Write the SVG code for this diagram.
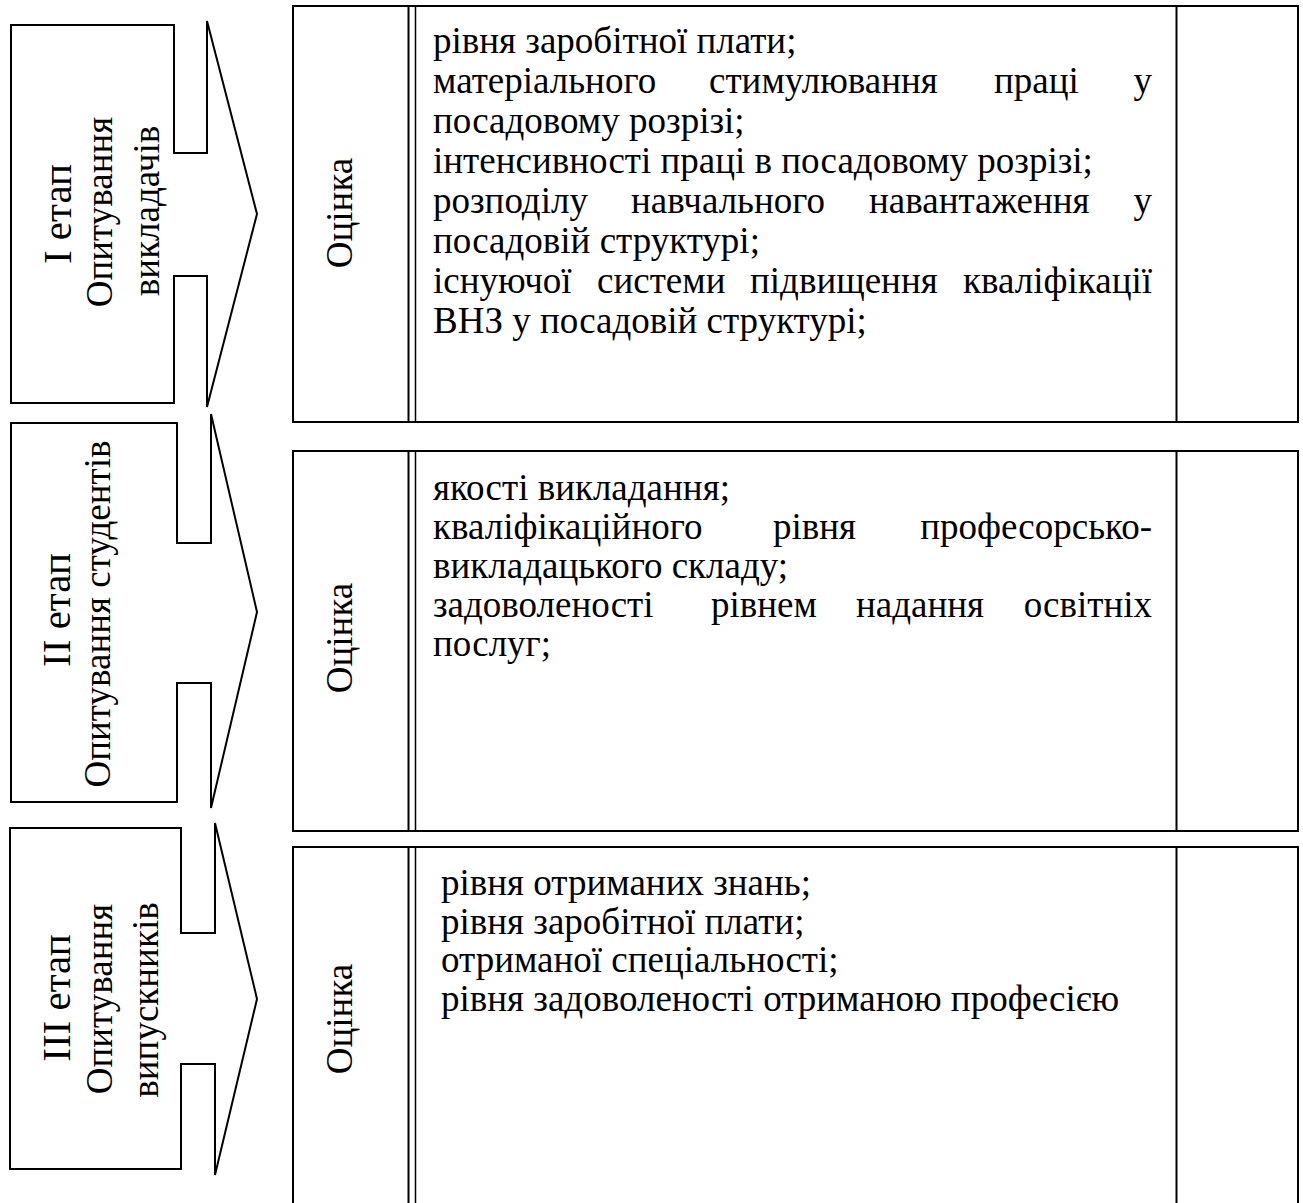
<svg xmlns="http://www.w3.org/2000/svg" width="1303" height="1203" viewBox="0 0 1303 1203">
<style>
.shape{fill:#fff;stroke:#000;stroke-width:2}
.ln{stroke:#000;stroke-width:2;fill:none}
.ln2{stroke:#000;stroke-width:1.5;fill:none}
text{font-family:"Liberation Serif","Times New Roman",serif;fill:#000}
.stage{font-size:41px}
.lbl{font-size:37px}
.body{font-size:37px}
</style>
<rect width="1303" height="1203" fill="#fff"/>
<g id="stage1">
<path class="shape" d="M11,25 H174 V153 H207 V21 L257,214 L207,407 V276 H174 V403 H11 Z"/>
<text class="stage" text-anchor="middle" transform="translate(71,214) rotate(-90)">I етап</text>
<text class="lbl" text-anchor="middle" transform="translate(112,212) rotate(-90)">Опитування</text>
<text class="lbl" text-anchor="middle" transform="translate(159,211) rotate(-90)">викладачів</text>
</g>
<g id="stage2">
<path class="shape" d="M11,423 H177 V543 H211 V414 L257,612 L211,808 V683 H177 V802 H11 Z"/>
<text class="stage" text-anchor="middle" transform="translate(70,610) rotate(-90)">II етап</text>
<text class="lbl" text-anchor="middle" transform="translate(110,614) rotate(-90)">Опитування студентів</text>
</g>
<g id="stage3">
<path class="shape" d="M10,828 H181 V933 H215 V823 L257,999 L215,1175 V1064 H181 V1169 H10 Z"/>
<text class="stage" text-anchor="middle" transform="translate(70,998) rotate(-90)">III етап</text>
<text class="lbl" text-anchor="middle" transform="translate(112,999) rotate(-90)">Опитування</text>
<text class="lbl" text-anchor="middle" transform="translate(158,1000) rotate(-90)">випускників</text>
</g>
<g id="panel1">
<rect class="ln" x="293" y="6" width="1005" height="416"/>
<line class="ln" x1="408.5" y1="6" x2="408.5" y2="422"/>
<line class="ln2" x1="415.5" y1="6" x2="415.5" y2="422"/>
<line class="ln" x1="1176.5" y1="6" x2="1176.5" y2="422"/>
<text class="lbl" text-anchor="middle" transform="translate(352,213) rotate(-90)">Оцінка</text>
<text class="body" x="433" y="53">рівня заробітної плати;</text>
<text class="body" y="93"><tspan x="433">матеріального</tspan><tspan x="709">стимулювання</tspan><tspan x="994">праці</tspan><tspan x="1152" text-anchor="end">у</tspan></text>
<text class="body" x="433" y="133">посадовому розрізі;</text>
<text class="body" x="433" y="173">інтенсивності праці в посадовому розрізі;</text>
<text class="body" y="213"><tspan x="433">розподілу</tspan><tspan x="631">навчального</tspan><tspan x="869">навантаження</tspan><tspan x="1152" text-anchor="end">у</tspan></text>
<text class="body" x="433" y="253">посадовій структурі;</text>
<text class="body" y="293"><tspan x="433">існуючої</tspan><tspan x="597">системи</tspan><tspan x="750">підвищення</tspan><tspan x="1152" text-anchor="end">кваліфікації</tspan></text>
<text class="body" x="433" y="333">ВНЗ у посадовій структурі;</text>
</g>
<g id="panel2">
<rect class="ln" x="293" y="451" width="1005" height="380"/>
<line class="ln" x1="408.5" y1="451" x2="408.5" y2="831"/>
<line class="ln2" x1="415.5" y1="451" x2="415.5" y2="831"/>
<line class="ln" x1="1176.5" y1="451" x2="1176.5" y2="831"/>
<text class="lbl" text-anchor="middle" transform="translate(352,638) rotate(-90)">Оцінка</text>
<text class="body" x="433" y="500">якості викладання;</text>
<text class="body" y="539"><tspan x="433">кваліфікаційного</tspan><tspan x="773">рівня</tspan><tspan x="1152" text-anchor="end">професорсько-</tspan></text>
<text class="body" x="433" y="578">викладацького складу;</text>
<text class="body" y="617"><tspan x="433">задоволеності</tspan><tspan x="711">рівнем</tspan><tspan x="856">надання</tspan><tspan x="1152" text-anchor="end">освітніх</tspan></text>
<text class="body" x="433" y="656">послуг;</text>
</g>
<g id="panel3">
<rect class="ln" x="293" y="847" width="1005" height="370"/>
<line class="ln" x1="408.5" y1="847" x2="408.5" y2="1217"/>
<line class="ln2" x1="415.5" y1="847" x2="415.5" y2="1217"/>
<line class="ln" x1="1176.5" y1="847" x2="1176.5" y2="1217"/>
<text class="lbl" text-anchor="middle" transform="translate(352,1019) rotate(-90)">Оцінка</text>
<text class="body" x="441" y="895">рівня отриманих знань;</text>
<text class="body" x="441" y="933.5">рівня заробітної плати;</text>
<text class="body" x="441" y="972">отриманої спеціальності;</text>
<text class="body" x="441" y="1010.5">рівня задоволеності отриманою професією</text>
</g>
<g id="connectors"></g>
</svg>
